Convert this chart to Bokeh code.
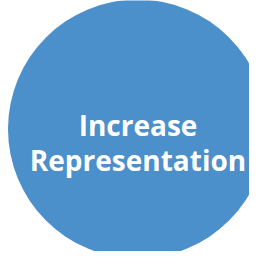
from bokeh.plotting import figure
from bokeh.models import Range1d
from bokeh.core.properties import value
from bokeh.embed import file_html
from bokeh.resources import INLINE

# Content
labels = ["Increase", "Representation"]
fill_color = "#4B8FCB"

W, H = 249, 251
OX, OY = 8, 8  # page offset of the figure

p = figure(width=W, height=H, output_backend="svg", toolbar_location=None,
           x_range=Range1d(OX, OX + W), y_range=Range1d(OY + H, OY),
           min_border=0, outline_line_color=None)
p.axis.visible = False
p.grid.visible = False
p.background_fill_color = "white"
p.border_fill_color = "white"

p.circle(x=[145], y=[136.5], radius=129.5, fill_color=fill_color, line_color=None)

p.text(x=[145.5, 145.5], y=[132, 167], text=labels, text_align="center",
       text_baseline="alphabetic", text_color="white",
       text_font=value("Open Sans"), text_font_style="bold", text_font_size="28px")

open("out.html", "w").write(file_html(p, INLINE))
